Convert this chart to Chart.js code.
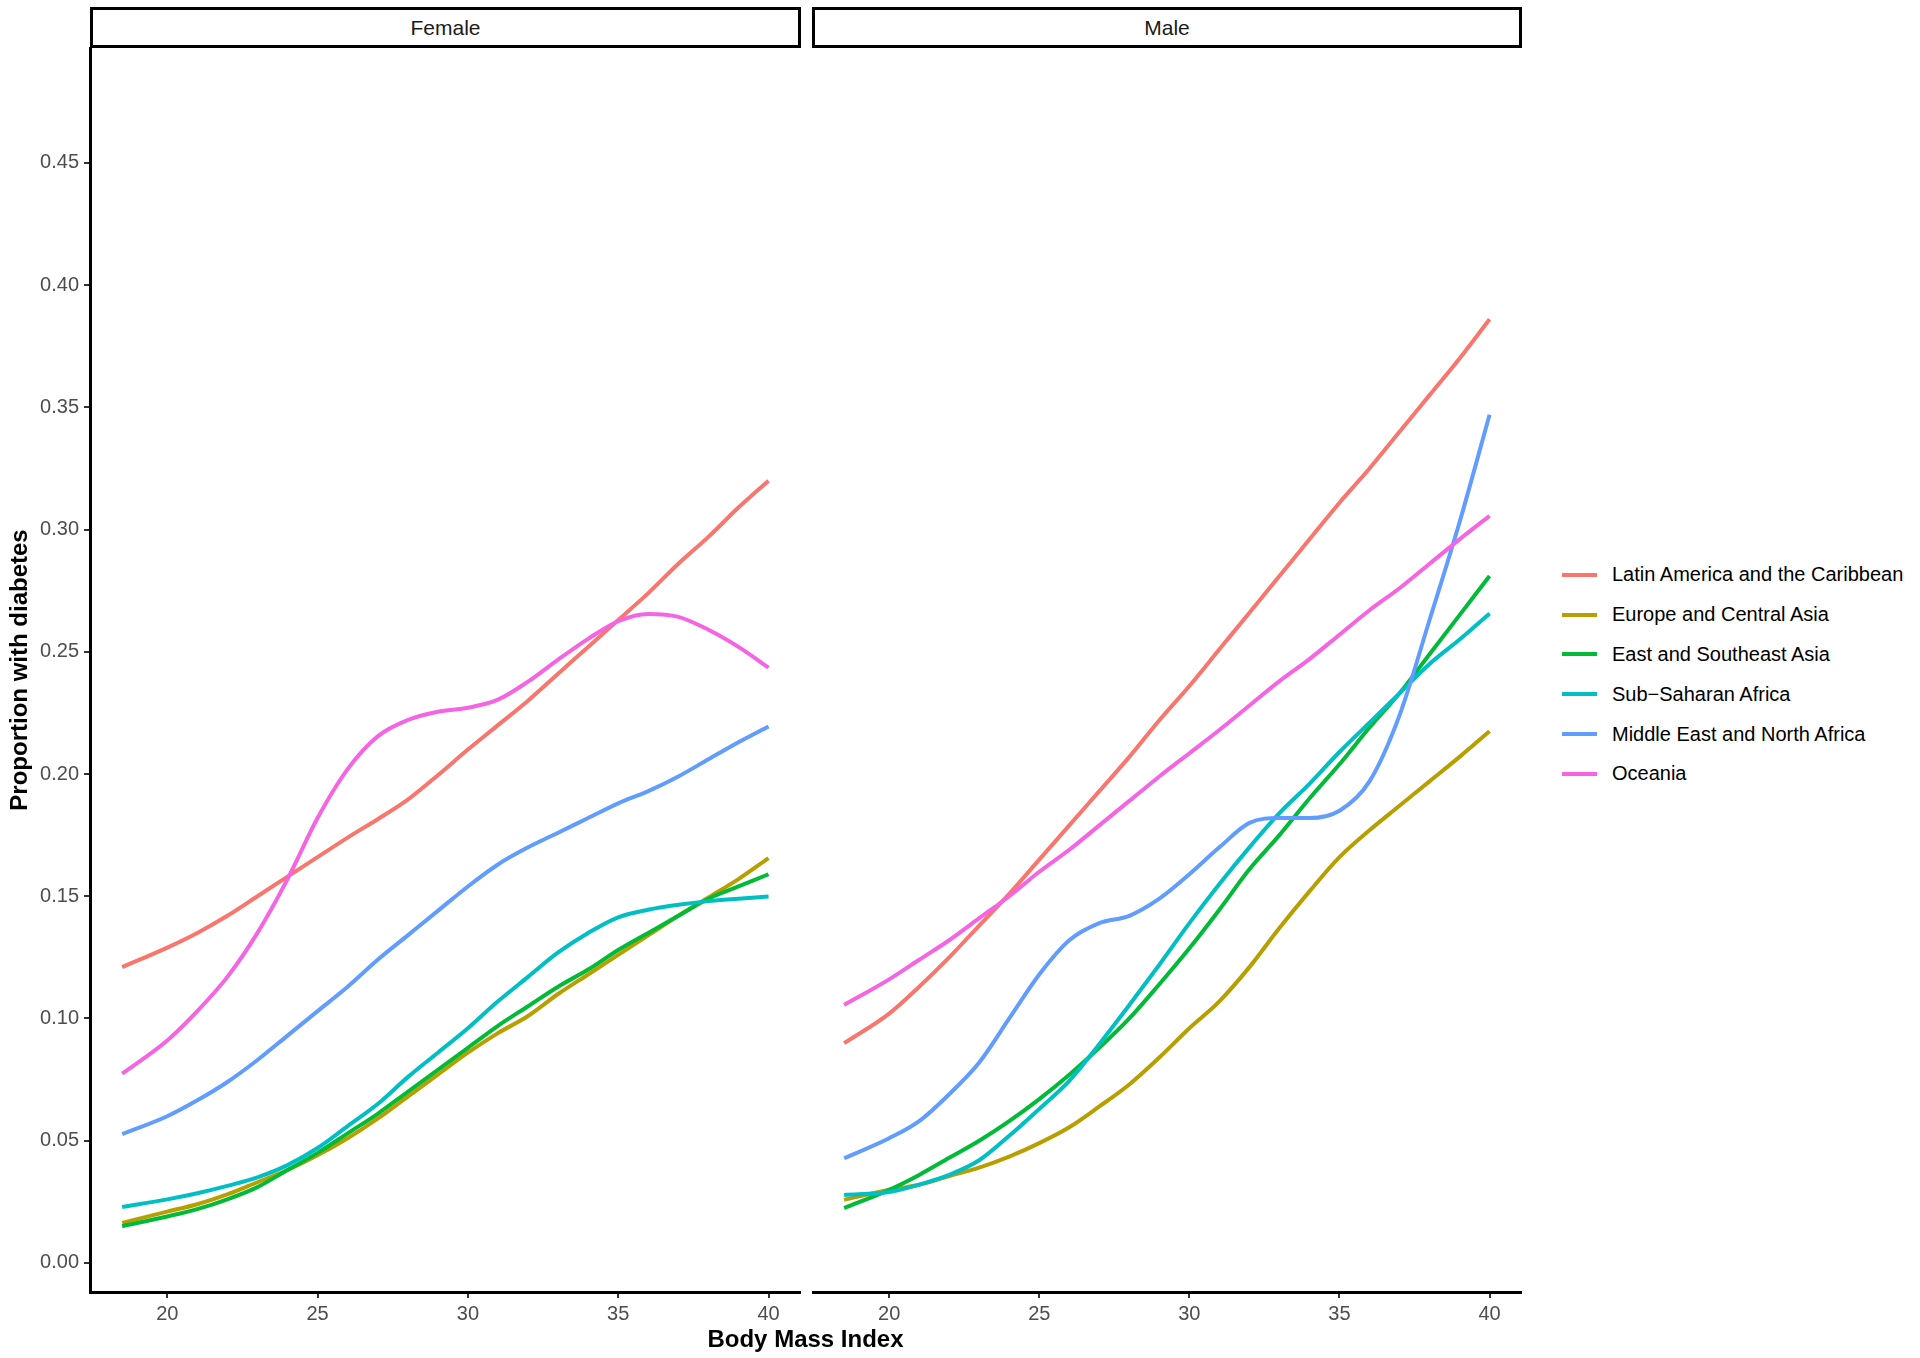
<!DOCTYPE html>
<html>
<head>
<meta charset="utf-8">
<script src="https://cdn.jsdelivr.net/npm/chart.js@4.4.1/dist/chart.umd.min.js"></script>
<style>
  body { margin: 0; background: #fff; font-family: "Liberation Sans", Arial, sans-serif; }
  #wrap { position: relative; width: 1920px; height: 1358px; overflow: hidden; }
  canvas { position: absolute; top: 0; }
  .strip { position: absolute; top: 7px; height: 41px; box-sizing: border-box; border: 3px solid #000;
           background: #fff; font-size: 21px; color: #1a1a1a; text-align: center; line-height: 35px; }
  #xtitle { position: absolute; left: 90px; width: 1431px; top: 1325px; text-align: center;
            font-weight: bold; font-size: 24px; color: #000; }
  #legend { position: absolute; left: 1562px; top: 555px; }
  .row { height: 39.8px; display: flex; align-items: center; font-size: 20px; color: #000; }
  .key { width: 35px; height: 4px; margin-right: 15px; }
</style>
</head>
<body>
<div id="wrap">
  <canvas id="female"></canvas>
  <canvas id="male"></canvas>
  <div class="strip" style="left:90px;width:711px">Female</div>
  <div class="strip" style="left:812px;width:710px">Male</div>
  <div id="xtitle">Body Mass Index</div>
  <div id="legend"></div>
</div>
<script>
// BMI grid the curves are read at
const bmi = [18.5, 20, 21, 22, 23, 24, 25, 26, 27, 28, 29, 30, 31, 32, 33, 34, 35, 36, 37, 38, 39, 40];
const xTicks = [20, 25, 30, 35, 40];
const yTicks = [0, 0.05, 0.1, 0.15, 0.2, 0.25, 0.3, 0.35, 0.4, 0.45];

const regions = ['Latin America and the Caribbean', 'Europe and Central Asia', 'East and Southeast Asia',
                 'Sub\u2212Saharan Africa', 'Middle East and North Africa', 'Oceania'];
const colors = ['#F8766D', '#B79F00', '#00BA38', '#00BFC4', '#619CFF', '#F564E3'];

// Female
const femaleLAC  = [.121, .129, .135, .142, .150, .158, .166, .174, .1815, .1895, .1995, .210, .220, .230, .241, .252, .263, .274, .286, .297, .309, .320];
const femaleECA  = [.0164, .021, .024, .028, .033, .038, .044, .051, .059, .068, .077, .086, .094, .101, .110, .118, .126, .134, .142, .1495, .157, .1656];
const femaleESEA = [.015, .019, .022, .026, .031, .038, .045, .053, .061, .070, .079, .088, .097, .105, .113, .120, .128, .135, .142, .149, .154, .159];
const femaleSSA  = [.0229, .026, .0285, .0315, .035, .040, .047, .056, .065, .076, .086, .096, .107, .117, .127, .135, .1414, .1445, .1465, .148, .149, .1499];
const femaleMENA = [.0527, .060, .0665, .074, .083, .093, .103, .113, .124, .134, .144, .154, .163, .170, .176, .182, .188, .193, .199, .206, .213, .2194];
const femaleOce  = [.0774, .091, .103, .117, .135, .157, .182, .202, .2154, .2221, .2255, .2271, .2304, .2378, .2468, .2553, .2625, .2655, .2643, .259, .252, .2435];

// Male
const maleLAC  = [.0899, .102, .113, .125, .138, .151, .165, .179, .193, .207, .222, .236, .251, .266, .281, .296, .311, .325, .340, .355, .370, .386];
const maleECA  = [.0258, .0299, .032, .0355, .039, .0435, .049, .0555, .064, .073, .084, .096, .107, .121, .137, .152, .166, .177, .187, .197, .207, .2175];
const maleESEA = [.0224, .0299, .036, .043, .050, .058, .067, .077, .088, .100, .114, .1287, .1445, .161, .175, .190, .204, .219, .233, .249, .265, .281];
const maleSSA  = [.0278, .029, .032, .036, .042, .052, .063, .0745, .0895, .1055, .122, .139, .155, .170, .184, .196, .209, .221, .233, .245, .255, .2657];
const maleMENA = [.0428, .051, .058, .069, .082, .100, .118, .132, .139, .142, .149, .159, .170, .180, .182, .182, .185, .197, .224, .263, .303, .347];
const maleOce  = [.1055, .116, .124, .132, .141, .150, .160, .169, .179, .189, .199, .2085, .218, .228, .238, .247, .257, .267, .276, .286, .296, .3056];

Chart.defaults.font.family = '"Liberation Sans", Arial, sans-serif';
Chart.defaults.animation = false;

function makeDatasets(series) {
  return series.map((vals, i) => ({
    label: regions[i],
    data: vals.map((v, j) => ({ x: bmi[j], y: v })),
    borderColor: colors[i],
    borderWidth: 4,
    pointRadius: 0,
    fill: false,
    cubicInterpolationMode: 'monotone',
    order: series.length - i
  }));
}

function xScale() {
  return {
    type: 'linear', min: 17.43, max: 41.08,
    afterBuildTicks: s => { s.ticks = xTicks.map(v => ({ value: v })); },
    afterFit: s => { s.height = 66; },
    grid: { drawOnChartArea: false, drawTicks: true, tickLength: 6, color: '#333', lineWidth: 2 },
    border: { display: true, color: '#000', width: 3 },
    ticks: { color: '#4d4d4d', font: { size: 20 }, padding: 4, maxRotation: 0 }
  };
}

function yScale(show) {
  return {
    type: 'linear', min: -0.0119, max: 0.497, display: show,
    afterBuildTicks: s => { s.ticks = yTicks.map(v => ({ value: v })); },
    afterFit: s => { s.width = show ? 90 : 0; },
    grid: { drawOnChartArea: false, drawTicks: true, tickLength: 6, color: '#333', lineWidth: 2 },
    border: { display: true, color: '#000', width: 3 },
    ticks: { color: '#4d4d4d', font: { size: 20 }, padding: 5, callback: v => v.toFixed(2) },
    title: { display: true, text: 'Proportion with diabetes', color: '#000',
             font: { size: 24, weight: 'bold' }, padding: { top: 6, bottom: 0 } }
  };
}

function panel(id, left, width, series, showY) {
  const cv = document.getElementById(id);
  cv.style.left = left + 'px';
  cv.width = width; cv.height = 1358;
  cv.style.width = width + 'px'; cv.style.height = '1358px';
  return new Chart(cv, {
    type: 'line',
    data: { datasets: makeDatasets(series) },
    options: {
      responsive: false,
      maintainAspectRatio: false,
      layout: { padding: { top: 48, left: 0, right: 0, bottom: 0 } },
      plugins: { legend: { display: false }, tooltip: { enabled: false } },
      scales: { x: xScale(), y: yScale(showY) }
    }
  });
}

panel('female', 0, 801, [femaleLAC, femaleECA, femaleESEA, femaleSSA, femaleMENA, femaleOce], true);
panel('male', 812, 710, [maleLAC, maleECA, maleESEA, maleSSA, maleMENA, maleOce], false);

// legend
const legend = document.getElementById('legend');
regions.forEach((name, i) => {
  const row = document.createElement('div');
  row.className = 'row';
  row.innerHTML = '<span class="key" style="background:' + colors[i] + '"></span>' + name;
  legend.appendChild(row);
});
</script>
</body>
</html>
